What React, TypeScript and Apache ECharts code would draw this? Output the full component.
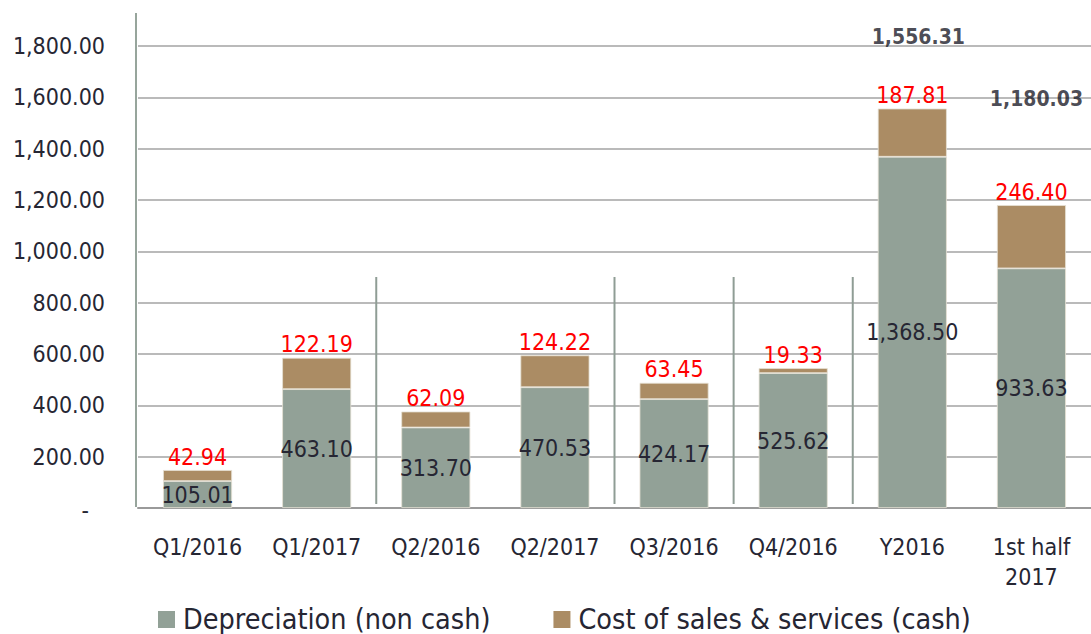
import React, { useEffect, useRef } from "react";
import * as echarts from "echarts";

const categories = ["Q1/2016", "Q1/2017", "Q2/2016", "Q2/2017", "Q3/2016", "Q4/2016", "Y2016", "1st half\n2017"];
const depreciation = [105.01, 463.1, 313.7, 470.53, 424.17, 525.62, 1368.5, 933.63];
const costOfSales = [42.94, 122.19, 62.09, 124.22, 63.45, 19.33, 187.81, 246.4];
const totalShownIndex = [6, 7];
const separatorAfterIndex = [1, 3, 4, 5];
const separatorTopValue = 900;
const yMin = 0;
const yMax = 1800;
const yInterval = 200;

const FONT = "'DejaVu Sans Condensed', 'DejaVu Sans'";
const TEXT = "#262633";
const DEP_COLOR = "#92a197";
const COST_COLOR = "#ab8c64";

const fmt = (v: number) =>
  v.toLocaleString("en-US", { minimumFractionDigits: 2, maximumFractionDigits: 2 });

const totalOffsets: Record<number, [number, number]> = { 6: [6, -56], 7: [5, -91] };

export default function App() {
  const ref = useRef<HTMLDivElement>(null);
  useEffect(() => {
    if (!ref.current) return;
    const chart = echarts.init(ref.current, null, { renderer: "svg" });
    const totals = depreciation.map((d, i) => d + costOfSales[i]);
    chart.setOption({
      animation: false,
      backgroundColor: "#ffffff",
      textStyle: { fontFamily: FONT },
      grid: { left: 138, right: -7, top: 46, bottom: 126, containLabel: false },
      legend: {
        left: 158,
        top: 605,
        padding: 0,
        itemWidth: 17,
        itemHeight: 17,
        itemGap: 63,
        icon: "rect",
        itemStyle: { borderWidth: 0 },
        textStyle: { fontFamily: FONT, fontSize: 28.5, lineHeight: 28, color: TEXT, padding: [0, 0, 0, 3] },
        data: ["Depreciation (non cash)", "Cost of sales & services (cash)"],
      },
      xAxis: {
        type: "category",
        data: categories,
        axisLine: { show: true, lineStyle: { color: "#9a9a9a", width: 2 } },
        axisTick: { show: false },
        axisLabel: { fontFamily: FONT, fontSize: 23, color: TEXT, margin: 24, lineHeight: 30, interval: 0 },
        splitLine: { show: false },
      },
      yAxis: {
        type: "value",
        min: yMin,
        max: yMax,
        interval: yInterval,
        axisLine: { show: false },
        axisTick: { show: false },
        splitLine: { show: true, lineStyle: { color: "#a3a3a3", width: 1.5 } },
        axisLabel: {
          fontFamily: FONT,
          fontSize: 23,
          color: TEXT,
          margin: 33,
          formatter: (v: number) => (v === 0 ? "{d|-}" : fmt(v)),
          rich: { d: { fontFamily: FONT, fontSize: 23, color: TEXT, padding: [4, 16, 0, 0] } },
        },
      },
      graphic: [
        {
          type: "line",
          shape: { x1: 136, y1: 13, x2: 136, y2: 507 },
          style: { stroke: "#97a59c", lineWidth: 2 },
          z: 10,
        },
      ],
      series: [
        {
          name: "Depreciation (non cash)",
          type: "bar",
          stack: "total",
          barWidth: 69,
          data: depreciation,
          itemStyle: { color: DEP_COLOR, borderColor: "#e6e1d4", borderWidth: 0.8 },
          label: {
            show: true,
            position: "inside",
            fontFamily: FONT,
            fontSize: 23,
            color: TEXT,
            formatter: (p: any) => fmt(p.value),
          },
          z: 3,
        },
        {
          name: "Cost of sales & services (cash)",
          type: "bar",
          stack: "total",
          barWidth: 69,
          data: costOfSales,
          itemStyle: { color: COST_COLOR, borderColor: "#e6e1d4", borderWidth: 0.8 },
          label: {
            show: true,
            position: "top",
            distance: 2,
            fontFamily: FONT,
            fontSize: 23,
            color: "#ff0000",
            formatter: (p: any) => fmt(p.value),
          },
          z: 3,
        },
        {
          name: "totals",
          type: "scatter",
          symbolSize: 0,
          silent: true,
          data: totals.map((t, i) =>
            totalShownIndex.includes(i)
              ? { value: t, label: { offset: totalOffsets[i] } }
              : "-"
          ),
          label: {
            show: true,
            position: "top",
            fontFamily: FONT,
            fontWeight: "bold",
            fontSize: 21,
            color: "#1c1c28",
            formatter: (p: any) => fmt(p.value),
          },
          z: 5,
        },
        {
          name: "separators",
          type: "custom",
          silent: true,
          data: separatorAfterIndex.map((i) => [i, separatorTopValue]),
          renderItem: (params: any, api: any) => {
            const idx = api.value(0);
            const top = api.coord([idx, api.value(1)]);
            const bottom = api.coord([idx, 0]);
            const bw = api.size([1, 0])[0];
            const x = top[0] + bw / 2;
            return {
              type: "line",
              shape: { x1: x, y1: top[1], x2: x, y2: bottom[1] - 4 },
              style: { stroke: "#8f9d95", lineWidth: 2 },
            };
          },
          z: 4,
        },
      ],
    });
    return () => chart.dispose();
  }, []);
  return (
    <div
      ref={ref}
      style={{ position: "absolute", left: 0, top: 0, width: 1091, height: 634 }}
    />
  );
}
